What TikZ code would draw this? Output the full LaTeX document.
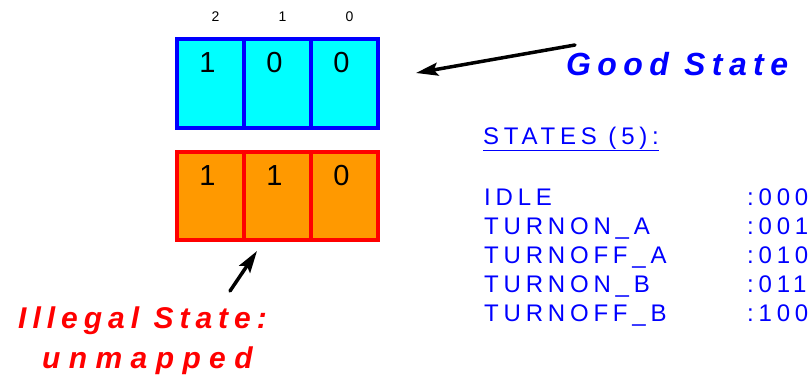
\documentclass[tikz,border=0pt]{standalone}
\usepackage{fontspec}
\setmainfont{Liberation Sans}
\newfontfamily\widesf[LetterSpace=20]{Liberation Sans}
\newfontfamily\loosesf[LetterSpace=20]{Liberation Sans}
\usetikzlibrary{arrows.meta}
\definecolor{regblue}{HTML}{0000FF}
\definecolor{regcyan}{HTML}{00FFFF}
\definecolor{regred}{HTML}{FF0000}
\definecolor{regorange}{HTML}{FF9900}
\tikzset{
  cell/.style={draw, line width=4pt, minimum width=67pt, minimum height=88pt, inner sep=0pt, outer sep=0pt},
  bit/.style={font=\fontsize{29}{29}\selectfont, anchor=base, inner sep=0pt},
  idx/.style={font=\fontsize{14}{14}\selectfont, anchor=base, inner sep=0pt},
  tag/.style={font=\loosesf\bfseries\itshape\fontsize{#1}{#1}\selectfont, anchor=base west, inner sep=0pt},
  lst/.style={font=\widesf\fontsize{24}{24}\selectfont, text=regblue, anchor=base west, inner sep=0pt},
  pointer/.style={-{Stealth[length=22pt,width=13pt,inset=4pt]}, line width=3.5pt, line cap=round},
}
% three-bit register: name, y centre, border, fill, bits
\newcommand{\register}[5]{%
  \foreach \b [count=\i] in {#5} {%
    \node[cell, draw=#3, fill=#4] (#1\i) at ({143.5+67*\i},#2) {};
    \node[bit] (#1b\i) at ([shift={(-3,33)}]#1\i.north) {\b};
  }}

\begin{document}
\begin{tikzpicture}[x=1pt,y=-1pt]
  \useasboundingbox (0,0) rectangle (810,377);
  \register{top}{83.5}{regblue}{regcyan}{1,0,0}
  \register{bot}{196}{regred}{regorange}{1,1,0}
  \foreach \b [count=\i] in {2,1,0}
    \node[idx] (col\i) at ([shift={(5,-18)}]top\i.north) {\b};

  \node[tag=32, text=regblue] (good) at (566,76) {Good State};
  \coordinate (goodtip) at ([shift={(38,-10.5)}]top3.east);
  \draw[pointer] ([shift={(9,-31)}]good.base west) -- (goodtip);

  \node[tag=30, text=regred] (illegal) at (18,328) {Illegal State:};
  \node[tag=30, text=regred] (unmapped) at (42,368) {\addfontfeature{LetterSpace=28}unmapped};
  \coordinate (badtip) at ([shift={(-20.5,11)}]bot2.south);
  \draw[pointer] ([shift={(212,-37)}]illegal.base west) -- (badtip);

  \node[lst] (hdr) at (483,144) {\underline{STATES (5):}};
  \foreach \nm/\cd [count=\i] in {IDLE/000, TURNON\_A/001, TURNOFF\_A/010, TURNON\_B/011, TURNOFF\_B/100} {
    \node[lst] (st\i) at (484,{176+29*\i}) {\nm};
    \node[lst] (cd\i) at (747,{176+29*\i}) {:\cd};
  }
\end{tikzpicture}
\end{document}
